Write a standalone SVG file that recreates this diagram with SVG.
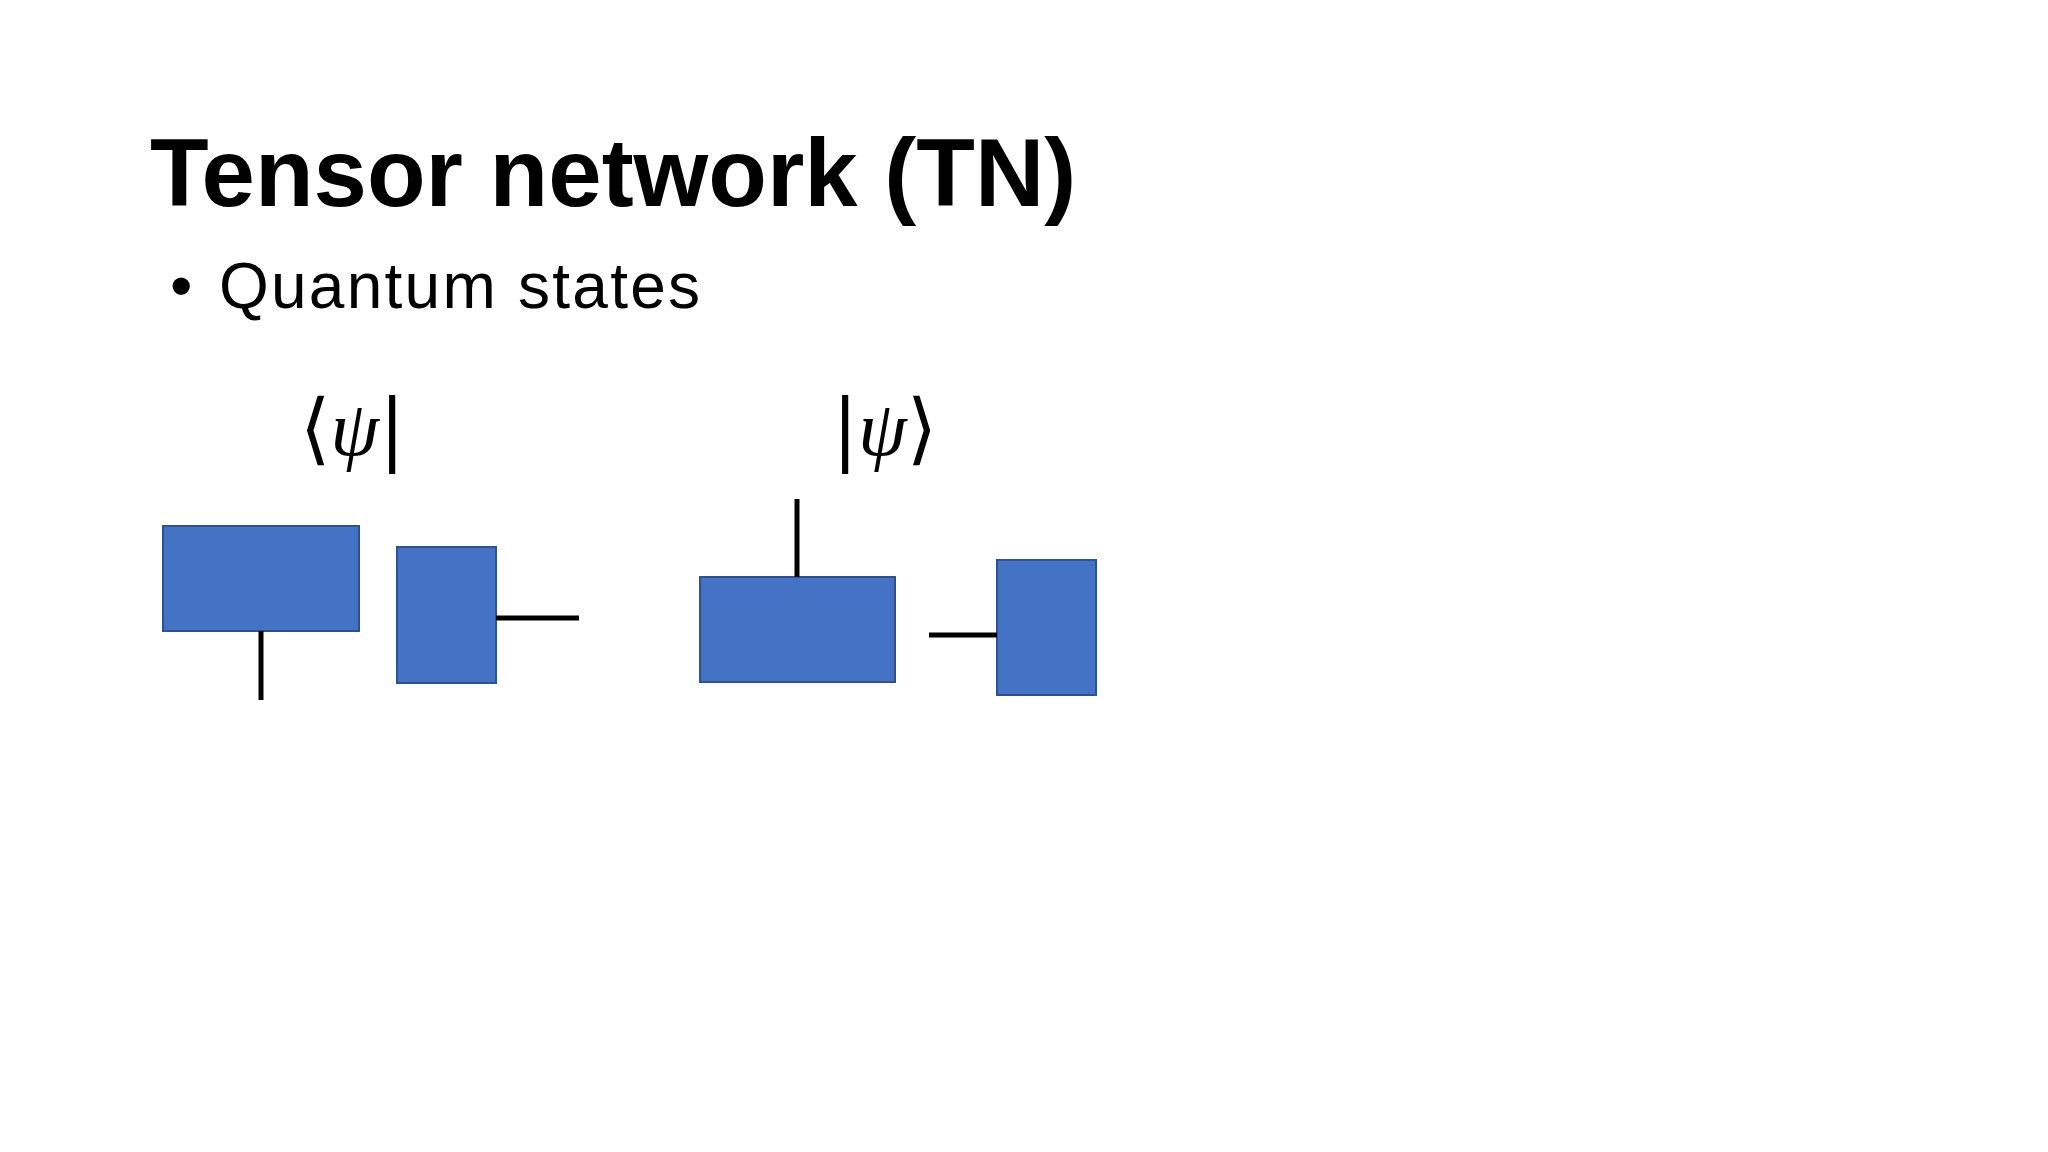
<svg xmlns="http://www.w3.org/2000/svg" width="2048" height="1152" viewBox="0 0 2048 1152">
<style>
.box{fill:#4472C4;stroke:#2F528F;stroke-width:2}
.ln{stroke:#000;stroke-width:5;fill:none}
.math{font-family:"DejaVu Serif","Liberation Serif",serif;font-size:78px;fill:#000}
</style>
<rect width="2048" height="1152" fill="#fff"/>
<text x="150" y="206" font-family="Liberation Sans,Arial,sans-serif" font-weight="bold" font-size="96" fill="#000">Tensor network (TN)</text>
<text x="170" y="308" font-family="Liberation Sans,Arial,sans-serif" font-size="64" fill="#000">•</text>
<text x="219" y="308" font-family="Liberation Sans,Arial,sans-serif" font-size="64" fill="#000" textLength="481">Quantum states</text>
<g id="bra"><text class="math" x="300" y="455">⟨<tspan font-style="italic" font-family="Liberation Serif,serif">ψ</tspan>|</text></g>
<g id="ket"><text class="math" x="832" y="455">|<tspan font-style="italic" font-family="Liberation Serif,serif">ψ</tspan>⟩</text></g>
<g id="box1"><rect class="box" x="163" y="526" width="196" height="105"/></g>
<g id="box2"><rect class="box" x="397" y="547" width="99" height="136"/></g>
<g id="box3"><rect class="box" x="700" y="577" width="195" height="105"/></g>
<g id="box4"><rect class="box" x="997" y="560" width="99" height="135"/></g>
<g id="connectors">
<line class="ln" x1="261" y1="631" x2="261" y2="700"/>
<line class="ln" x1="496" y1="618" x2="579" y2="618"/>
<line class="ln" x1="797" y1="499" x2="797" y2="577"/>
<line class="ln" x1="929" y1="635" x2="997" y2="635"/>
</g>
</svg>
